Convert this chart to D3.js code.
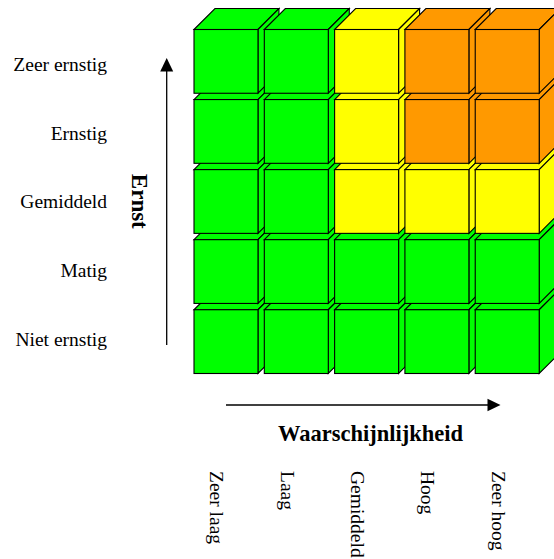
<!DOCTYPE html>
<html>
<head>
<meta charset="utf-8">
<script src="https://cdn.jsdelivr.net/npm/d3@7"></script>
<style>
  html, body { margin: 0; padding: 0; background: #fff; }
  svg { display: block; }
  text { font-family: "Times New Roman", "Liberation Serif", "DejaVu Serif", serif; fill: #000; }
</style>
</head>
<body>
<svg id="chart" width="554" height="559"></svg>
<script>
// Likelihood categories (columns, left to right)
const likelihood = ["Zeer laag", "Laag", "Gemiddeld", "Hoog", "Zeer hoog"];
// Severity categories (rows, bottom to top)
const severity = ["Niet ernstig", "Matig", "Gemiddeld", "Ernstig", "Zeer ernstig"];

// Risk level per severity row, one entry per likelihood column
const riskNietErnstig = ["laag", "laag", "laag", "laag", "laag"];
const riskMatig       = ["laag", "laag", "laag", "laag", "laag"];
const riskGemiddeld   = ["laag", "laag", "midden", "midden", "midden"];
const riskErnstig     = ["laag", "laag", "midden", "hoog", "hoog"];
const riskZeerErnstig = ["laag", "laag", "midden", "hoog", "hoog"];
const riskRows = [riskNietErnstig, riskMatig, riskGemiddeld, riskErnstig, riskZeerErnstig];

const levels = ["laag", "midden", "hoog"];
const levelColors = ["#00ff00", "#ffff00", "#ff9900"];

const svg = d3.select("#chart");

// Scales for the cube front faces
const x = d3.scaleBand().domain(likelihood).range([194, 539.2]).paddingInner(0.09);
const y = d3.scaleBand().domain(severity.slice().reverse()).range([29.5, 373.5]).paddingInner(0.09);
const color = d3.scaleOrdinal().domain(levels).range(levelColors);

// Label position scale for the severity names
const yLabel = d3.scalePoint().domain(severity.slice().reverse()).range([70.7, 346]);

const depthX = 21, depthY = 21;

// Build cell list: bottom row first, then left to right, so nearer faces paint over
const cells = [];
severity.forEach((s, si) => {
  likelihood.forEach((l, li) => {
    cells.push({ sev: s, lik: l, level: riskRows[si][li] });
  });
});

const g = svg.append("g");
const cube = g.selectAll("g.cube").data(cells).join("g").attr("class", "cube");

cube.each(function(d) {
  const sel = d3.select(this);
  const x0 = x(d.lik), y0 = y(d.sev);
  const w = x.bandwidth(), h = y.bandwidth();
  const fill = color(d.level);
  const style = s => s.attr("fill", fill).attr("stroke", "#000").attr("stroke-width", 1.1).attr("stroke-linejoin", "miter");
  // top face
  style(sel.append("path").attr("d", d3.line()([
    [x0, y0], [x0 + depthX, y0 - depthY], [x0 + w + depthX, y0 - depthY], [x0 + w, y0]
  ]) + "Z"));
  // right side face
  style(sel.append("path").attr("d", d3.line()([
    [x0 + w, y0], [x0 + w + depthX, y0 - depthY], [x0 + w + depthX, y0 + h - depthY], [x0 + w, y0 + h]
  ]) + "Z"));
  // front face
  style(sel.append("rect").attr("x", x0).attr("y", y0).attr("width", w).attr("height", h));
});

// Severity labels
svg.append("g").selectAll("text").data(severity).join("text")
  .attr("x", 107)
  .attr("y", d => yLabel(d))
  .attr("text-anchor", "end")
  .style("font-size", "19.5px")
  .text(d => d);

// Likelihood labels, rotated to read top to bottom
svg.append("g").selectAll("text").data(likelihood).join("text")
  .attr("transform", d => `translate(${x(d) + x.bandwidth() / 2 - 15.5},471) rotate(90)`)
  .attr("text-anchor", "start")
  .style("font-size", "19.5px")
  .text(d => d);

// Vertical axis arrow
svg.append("line").attr("x1", 166.7).attr("x2", 166.7).attr("y1", 345).attr("y2", 70)
  .attr("stroke", "#000").attr("stroke-width", 1.3);
svg.append("path").attr("d", "M166.7,58 L160.2,71.5 L173.2,71.5 Z").attr("fill", "#000");

// Horizontal axis arrow
svg.append("line").attr("x1", 226).attr("x2", 490).attr("y1", 405).attr("y2", 405)
  .attr("stroke", "#000").attr("stroke-width", 1.3);
svg.append("path").attr("d", "M500.5,405 L487.5,398.7 L487.5,411.3 Z").attr("fill", "#000");

// Axis titles
svg.append("text")
  .attr("transform", "translate(131.5,201.3) rotate(90)")
  .attr("text-anchor", "middle")
  .style("font-size", "23px").style("font-weight", "bold")
  .text("Ernst");

svg.append("text")
  .attr("x", 370.5).attr("y", 441)
  .attr("text-anchor", "middle")
  .style("font-size", "22.5px").style("font-weight", "bold")
  .text("Waarschijnlijkheid");
</script>
</body>
</html>
